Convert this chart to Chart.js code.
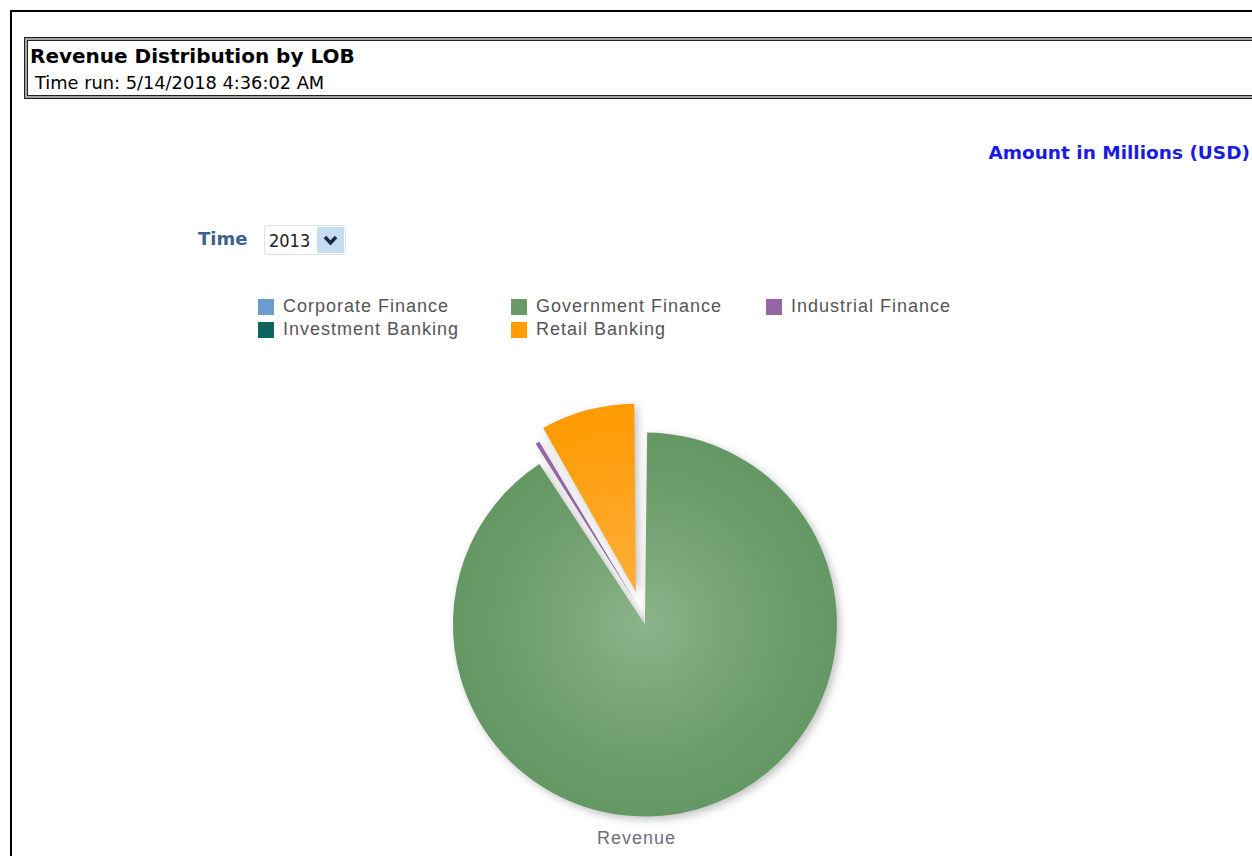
<!DOCTYPE html>
<html>
<head>
<meta charset="utf-8">
<script src="https://cdn.jsdelivr.net/npm/chart.js@4.4.0/dist/chart.umd.min.js"></script>
<style>
  body { margin: 0; background: #fff; width: 1252px; height: 856px; overflow: hidden; position: relative; }
  .frame { position: absolute; left: 10px; top: 10px; width: 1400px; height: 1000px; border: 2px solid #000; }
  .hdr { position: absolute; left: 24px; top: 37px; width: 1300px; height: 56px; border: 1px solid #222; padding: 2px; background: #a3a3a3; }
  .hdr-in { width: 100%; height: 100%; border: 1px solid #222; background: #fff; box-sizing: border-box; }
  .title { position: absolute; left: 30px; top: 44px; font: bold 20px "DejaVu Sans", sans-serif; color: #000; }
  .run { position: absolute; left: 35px; top: 72px; font: 17.8px "DejaVu Sans", sans-serif; color: #000; }
  .amount { position: absolute; right: 2px; top: 142px; font: bold 18.5px "DejaVu Sans", sans-serif; color: #1a1ae6; }
  .time { position: absolute; left: 198px; top: 228px; font: bold 18px "DejaVu Sans", sans-serif; color: #3c6191; }
  .sel { position: absolute; left: 264px; top: 225px; width: 80px; height: 28px; border: 1px solid #dde3ea; border-radius: 3px; background: #fdfdfd; }
  .sel span { position: absolute; left: 4px; top: 4px; font: 18px "DejaVu Sans Condensed", sans-serif; color: #222; }
  .sel .btn { position: absolute; right: 1px; top: 1px; width: 27px; height: 26px; background: #c5dcf3; border-radius: 2px; }
  .legend { position: absolute; left: 0; top: 0; }
  .li { position: absolute; font: 18px "Liberation Sans", Arial, sans-serif; letter-spacing: 1px; color: #555; white-space: nowrap; }
  .li i { position: absolute; left: 0; top: 3px; width: 16px; height: 16px; }
  .li b { font-weight: normal; position: absolute; left: 25px; top: 0; }
  .rev { position: absolute; left: 597px; top: 828px; font: 18px "Liberation Sans", Arial, sans-serif; letter-spacing: 1px; color: #6e6e7e; }
  #pie { position: absolute; left: 391px; top: 341px; }
</style>
</head>
<body>
<div class="frame"></div>
<div class="hdr"><div class="hdr-in"></div></div>
<div class="title">Revenue Distribution by LOB</div>
<div class="run">Time run: 5/14/2018 4:36:02 AM</div>
<div class="amount">Amount in Millions (USD)</div>
<div class="time">Time</div>
<div class="sel"><span>2013</span><div class="btn"><svg width="27" height="26"><polyline points="8,10 13.5,16 19,10" fill="none" stroke="#1b2b44" stroke-width="3.5"/></svg></div></div>
<div class="legend" id="legend"></div>
<div class="rev">Revenue</div>
<canvas id="pie" width="500" height="540"></canvas>
<script>
var labels = ['Corporate Finance', 'Government Finance', 'Industrial Finance', 'Investment Banking', 'Retail Banking'];
var revenue = [0, 3272, 22, 5, 300];
var colors = ['#6c9bd0', '#689a68', '#9566a6', '#0c665e', '#ff9c00'];
// how far each slice is pulled out (Chart.js offset)
var explode = [0, 56, 40, 40, 80];

// legend laid out in the same 3-column grid as the original
var legendPos = [[258, 296], [511, 296], [766, 296], [258, 319], [511, 319]];
var legend = document.getElementById('legend');
labels.forEach(function (name, i) {
    var d = document.createElement('div');
    d.className = 'li';
    d.style.left = legendPos[i][0] + 'px';
    d.style.top = legendPos[i][1] + 'px';
    d.innerHTML = '<i style="background:' + colors[i] + '"></i><b>' + name + '</b>';
    legend.appendChild(d);
});

function fill(context) {
    var c = context.chart;
    var a = c.chartArea;
    if (!a) return colors[context.dataIndex];
    var cx = (a.left + a.right) / 2, cy = (a.top + a.bottom) / 2;
    var g = c.ctx.createRadialGradient(cx, cy, 0, cx, cy, 195);
    if (context.dataIndex === 1) {
        g.addColorStop(0, '#8ab48a');
        g.addColorStop(0.7, '#6c9c6c');
        g.addColorStop(1, '#639763');
    } else if (context.dataIndex === 4) {
        g.addColorStop(0, '#ffad3a');
        g.addColorStop(1, '#ff9a00');
    } else {
        return colors[context.dataIndex];
    }
    return g;
}

var shadow = {
    id: 'shadow',
    beforeDatasetsDraw: function (chart) {
        var ctx = chart.ctx;
        ctx.save();
        ctx.shadowColor = 'rgba(0,0,0,0.25)';
        ctx.shadowBlur = 9;
        ctx.shadowOffsetX = 3;
        ctx.shadowOffsetY = 3;
    },
    afterDatasetsDraw: function (chart) {
        chart.ctx.restore();
    }
};

var chart = new Chart(document.getElementById('pie').getContext('2d'), {
    type: 'pie',
    data: {
        labels: labels,
        datasets: [{
            data: revenue,
            backgroundColor: fill,
            borderWidth: 0,
            offset: explode,
            clip: false
        }]
    },
    options: {
        responsive: false,
        animation: false,
        radius: 178,
        layout: { padding: 0 },
        plugins: { legend: { display: false }, tooltip: { enabled: false } }
    },
    plugins: [shadow]
});
</script>
</body>
</html>
